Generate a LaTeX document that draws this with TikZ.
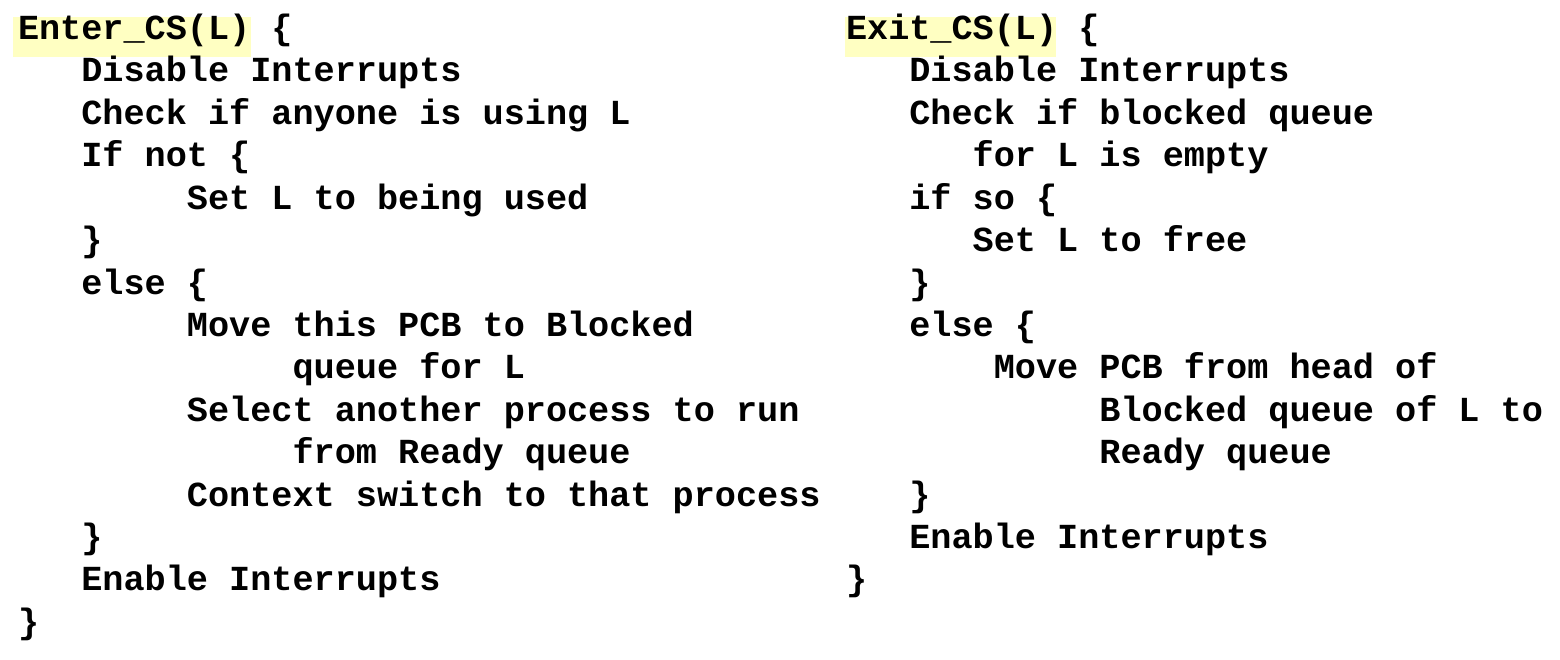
\documentclass[tikz,border=0pt]{standalone}
\usepackage{fontspec}
\newfontfamily\codefont{Liberation Mono}
\definecolor{hl}{HTML}{FFFFC2}
\tikzset{
  code/.style={anchor=base west, inner sep=0pt, outer sep=0pt,
    font=\codefont\bfseries\fontsize{35.2}{42}\selectfont, text=black},
  hlbox/.style={fill=hl, draw=none}
}
\begin{document}
\begin{tikzpicture}[x=1pt,y=-1pt]
\useasboundingbox (0,0) rectangle (1560,660);
\def\cw{21.12}
\def\lh{42.42}
\def\by{39.5}
\def\lx{18}
\def\rx{846}
% highlights
\fill[hlbox] (13,17.5) rectangle (251,57);
\fill[hlbox] (845,17.5) rectangle (1056,57);
% left column
\node[code] (l1)  at (\lx+0*\cw, \by+0*\lh)  {Enter\_CS(L) \{};
\node[code] (l2)  at (\lx+3*\cw, \by+1*\lh)  {Disable Interrupts};
\node[code] (l3)  at (\lx+3*\cw, \by+2*\lh)  {Check if anyone is using L};
\node[code] (l4)  at (\lx+3*\cw, \by+3*\lh)  {If not \{};
\node[code] (l5)  at (\lx+8*\cw, \by+4*\lh)  {Set L to being used};
\node[code] (l6)  at (\lx+3*\cw, \by+5*\lh)  {\}};
\node[code] (l7)  at (\lx+3*\cw, \by+6*\lh)  {else \{};
\node[code] (l8)  at (\lx+8*\cw, \by+7*\lh)  {Move this PCB to Blocked};
\node[code] (l9)  at (\lx+13*\cw, \by+8*\lh) {queue for L};
\node[code] (l10) at (\lx+8*\cw, \by+9*\lh)  {Select another process to run};
\node[code] (l11) at (\lx+13*\cw, \by+10*\lh) {from Ready queue};
\node[code] (l12) at (\lx+8*\cw, \by+11*\lh) {Context switch to that process};
\node[code] (l13) at (\lx+3*\cw, \by+12*\lh) {\}};
\node[code] (l14) at (\lx+3*\cw, \by+13*\lh) {Enable Interrupts};
\node[code] (l15) at (\lx+0*\cw, \by+14*\lh) {\}};
% right column
\node[code] (r1)  at (\rx+0*\cw, \by+0*\lh)  {Exit\_CS(L) \{};
\node[code] (r2)  at (\rx+3*\cw, \by+1*\lh)  {Disable Interrupts};
\node[code] (r3)  at (\rx+3*\cw, \by+2*\lh)  {Check if blocked queue};
\node[code] (r4)  at (\rx+6*\cw, \by+3*\lh)  {for L is empty};
\node[code] (r5)  at (\rx+3*\cw, \by+4*\lh)  {if so \{};
\node[code] (r6)  at (\rx+6*\cw, \by+5*\lh)  {Set L to free};
\node[code] (r7)  at (\rx+3*\cw, \by+6*\lh)  {\}};
\node[code] (r8)  at (\rx+3*\cw, \by+7*\lh)  {else \{};
\node[code] (r9)  at (\rx+7*\cw, \by+8*\lh)  {Move PCB from head of};
\node[code] (r10) at (\rx+12*\cw, \by+9*\lh) {Blocked queue of L to};
\node[code] (r11) at (\rx+12*\cw, \by+10*\lh) {Ready queue};
\node[code] (r12) at (\rx+3*\cw, \by+11*\lh) {\}};
\node[code] (r13) at (\rx+3*\cw, \by+12*\lh) {Enable Interrupts};
\node[code] (r14) at (\rx+0*\cw, \by+13*\lh) {\}};
\end{tikzpicture}
\end{document}
